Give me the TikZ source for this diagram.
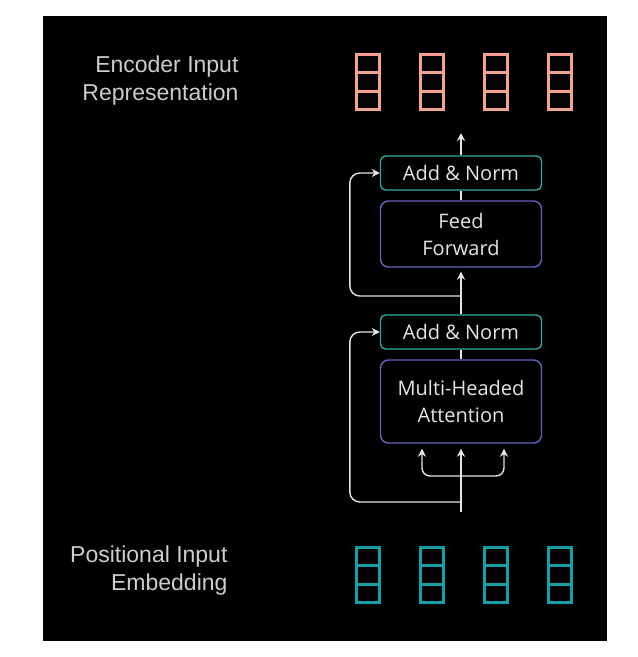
\documentclass[tikz,border=0pt]{standalone}
\usepackage{fontspec}
\setmainfont{Open Sans}
\newfontfamily\labelfont{Liberation Sans}
\usepackage{xcolor}
\usetikzlibrary{shapes,arrows.meta}

\definecolor{vecpink}{RGB}{245,162,146}
\definecolor{vecteal}{RGB}{22,160,165}
\definecolor{normedge}{RGB}{48,170,160}
\definecolor{layeredge}{RGB}{112,92,190}
\definecolor{linegray}{RGB}{228,228,228}

\begin{document}
\begin{tikzpicture}[x=1pt,y=-1pt]
    \tikzstyle{vec}=[rectangle split, rectangle split parts=3, draw, line width=3pt, inner sep=0pt,
        rectangle split empty part width=18pt, rectangle split empty part height=15.5pt,
        rectangle split empty part depth=0pt]
    \tikzstyle{normbox}=[draw=normedge, line width=1.4pt, rounded corners=5pt, minimum width=161pt,
        minimum height=34pt, text=linegray, font=\fontsize{20}{27}\selectfont]
    \tikzstyle{layerbox}=[normbox, draw=layeredge, rounded corners=8pt, align=center]
    \tikzstyle{flow}=[draw=linegray, line width=1.4pt, -{Stealth[length=8pt,width=8pt]}]
    \tikzstyle{sidelabel}=[text=linegray!90!black, align=right, anchor=east,
        font=\labelfont\fontsize{23}{28}\selectfont]

    \useasboundingbox (0,0) rectangle (638,657);
    \fill[white] (0,0) rectangle (638,657);
    \fill[black] (43,16) rectangle (607,641);

    % labels
    \node[sidelabel] (toplabel) at (242,81) {Encoder Input\\Representation};
    \node[sidelabel] (botlabel) at (231,571) {Positional Input\\Embedding};

    % output vectors
    \node[vec, draw=vecpink] (out1) at (368,82) {};
    \node[vec, draw=vecpink] (out2) at (432,82) {};
    \node[vec, draw=vecpink] (out3) at (496,82) {};
    \node[vec, draw=vecpink] (out4) at (560,82) {};

    % input vectors
    \node[vec, draw=vecteal] (in1) at (368,575) {};
    \node[vec, draw=vecteal] (in2) at (432,575) {};
    \node[vec, draw=vecteal] (in3) at (496,575) {};
    \node[vec, draw=vecteal] (in4) at (560,575) {};

    % encoder layer
    \node[normbox] (an2) at (461,173) {Add \& Norm};
    \node[layerbox, minimum height=66pt] (ff) at (461,234) {Feed\\Forward};
    \node[normbox] (an1) at (461,332) {Add \& Norm};
    \node[layerbox, minimum height=83pt] (mha) at (461,401.5) {Multi-Headed\\Attention};

    \coordinate (src) at (461,512);
    \coordinate (skip1) at (461,502);
    \coordinate (fork) at (461,476);
    \coordinate (skip2) at (461,296);
    \coordinate (top) at (461,133);

    \draw[flow, shorten >=5pt] (src) -- (mha.south);
    \draw[flow, {Stealth[length=8pt,width=8pt]}-{Stealth[length=8pt,width=8pt]}, rounded corners=8pt]
        ([xshift=-39pt,yshift=-5pt]mha.south) |- (fork) -| ([xshift=43pt,yshift=-5pt]mha.south);
    \draw[flow, rounded corners=10pt] (skip1) -| ([xshift=-30pt]an1.west) -- (an1.west);
    \draw[draw=linegray, line width=1.4pt] (an1.south) -- (mha.north);
    \draw[flow, shorten >=4pt] (an1.north) -- (ff.south);
    \draw[flow, rounded corners=10pt] (skip2) -| ([xshift=-30pt]an2.west) -- (an2.west);
    \draw[draw=linegray, line width=1.4pt] (ff.north) -- (an2.south);
    \draw[flow] (an2.north) -- (top);

\end{tikzpicture}
\end{document}
